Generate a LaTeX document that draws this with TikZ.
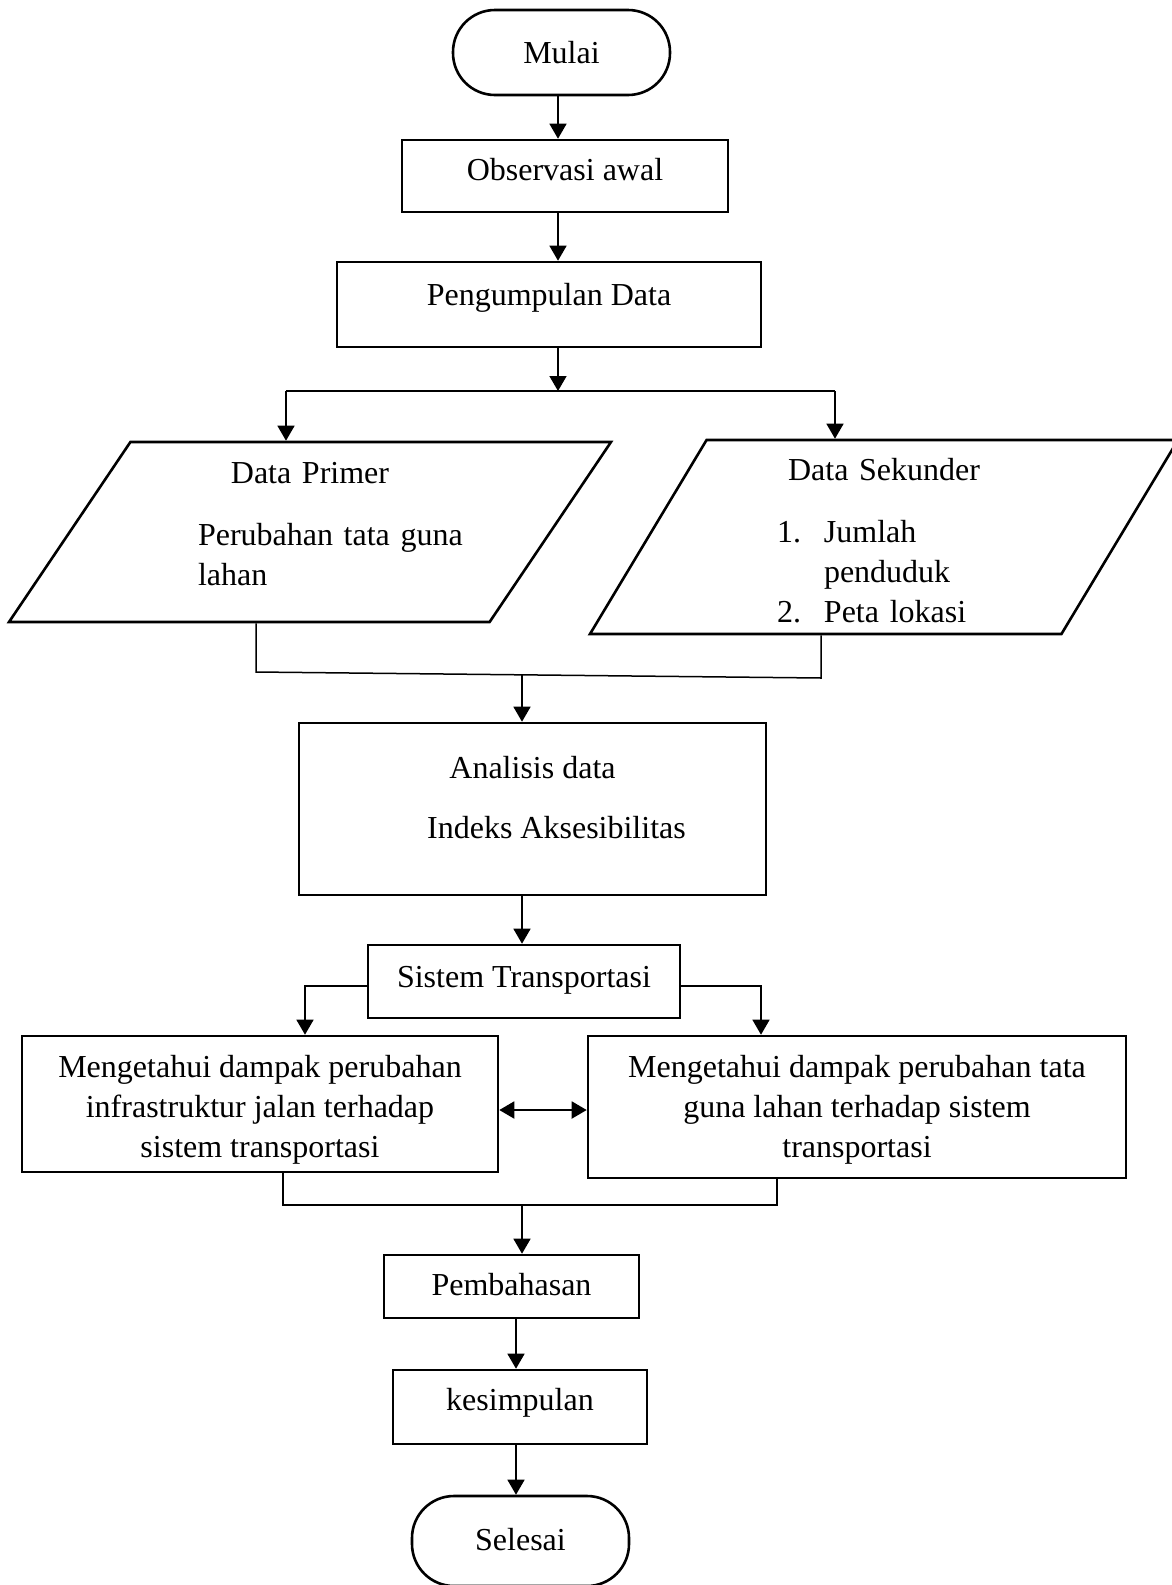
\documentclass[tikz,border=0pt]{standalone}
\usepackage{fontspec}
\setmainfont{Liberation Serif}
\usetikzlibrary{arrows.meta,shapes.geometric,positioning}

\begin{document}
\begin{tikzpicture}[x=0.5pt, y=-0.5pt,
                    font=\fontsize{16pt}{20pt}\selectfont,
                    box/.style={draw, rectangle, line width=1.3pt, inner xsep=0pt, inner ysep=0pt},
                    terminal/.style={box, rounded corners=21pt},
                    io/.style={draw, trapezium, trapezium stretches body, line width=1.3pt, inner sep=0pt},
                    flow/.style={line width=0.75pt},
                    arr/.style={flow, -{Triangle[length=7.5pt,width=8.5pt]}},
                    dbl/.style={line width=1pt, {Triangle[length=7.5pt,width=8.5pt]}-{Triangle[length=7.5pt,width=8.5pt]}}]
   \useasboundingbox (0,0) rectangle (1172,1585);

   % Define nodes
   \node[terminal, minimum width=108.5pt, text height=26.5pt, text depth=16pt] (mulai) at (561.5,52.5) {Mulai};
   \node[box, minimum width=163pt, text height=20pt, text depth=16pt] (observasi) at (565,176) {Observasi awal};
   \node[box, minimum width=212pt, text height=21.5pt, text depth=21pt] (pengumpulan) at (549,304.5) {Pengumpulan Data};
   \node[io, minimum width=301pt, trapezium left angle=56, trapezium right angle=124,
         text width=160pt, align=left, text height=20.5pt, text depth=69.5pt] (primer) at (310,532)
        {\makebox[\hsize]{Data Primer}\\[11pt]\hspace*{24pt}Perubahan tata guna\\\hspace*{24pt}lahan};
   \node[io, minimum width=294pt, trapezium left angle=59, trapezium right angle=121,
         text width=107pt, align=left, text height=20pt, text depth=77pt] (sekunder) at (884,537)
        {\makebox[\hsize]{Data Sekunder}\\[11pt]\makebox[23.5pt][l]{1.}Jumlah\\\hspace*{23.5pt}penduduk\\\makebox[23.5pt][l]{2.}Peta lokasi};
   \node[box, minimum width=233.5pt, minimum height=86pt, align=center, text depth=12pt] (analisis) at (532.5,809)
        {Analisis data\\[10pt]\hspace*{24pt}Indeks Aksesibilitas};
   \node[box, minimum width=156pt, text height=21pt, text depth=15.5pt] (sistem) at (524,981.5) {Sistem Transportasi};
   \node[box, minimum width=238pt, align=center, text height=60.5pt, text depth=7.5pt] (dampak_jalan) at (260,1104)
        {Mengetahui dampak perubahan\\infrastruktur jalan terhadap\\sistem transportasi};
   \node[box, minimum width=269pt, align=center, text height=60.5pt, text depth=10.5pt] (dampak_lahan) at (857,1107)
        {Mengetahui dampak perubahan tata\\guna lahan terhadap sistem\\transportasi};
   \node[box, minimum width=127.5pt, text height=20pt, text depth=11.5pt] (pembahasan) at (511.5,1286.5) {Pembahasan};
   \node[box, minimum width=127pt, text height=20pt, text depth=17pt] (kesimpulan) at (520,1407) {kesimpulan};
   \node[terminal, minimum width=108.5pt, text height=27pt, text depth=18pt] (selesai) at (520.5,1541) {Selesai};

   % Bends and joints of the connectors
   \coordinate (spine) at (558,0);
   \coordinate (fork_l) at (286,391);
   \coordinate (fork_r) at (835,391);
   \coordinate (join_l) at (256,672);
   \coordinate (join_r) at (821,678);
   \coordinate (join_m) at (522,674.8);
   \coordinate (branch_l) at (305,986);
   \coordinate (branch_r) at (761,986);
   \coordinate (link) at (543,1110);
   \coordinate (merge_l) at (283,1205);
   \coordinate (merge_r) at (777,1205);
   \coordinate (merge_m) at (522,1205);
   \coordinate (tail) at (516,0);

   % Define transitions
   \draw[arr] (mulai.south -| spine) -- (observasi.north -| spine);
   \draw[arr] (observasi.south -| spine) -- (pengumpulan.north -| spine);
   \draw[arr] (pengumpulan.south -| spine) -- (fork_l -| spine);
   \draw[flow] (fork_l) -- (fork_r);
   \draw[arr] (fork_l) -- (fork_l |- primer.north);
   \draw[arr] (fork_r) -- (fork_r |- sekunder.north);
   \draw[flow] (join_l |- primer.south) -- (join_l) -- (join_r) -- (join_r |- sekunder.south);
   \draw[arr] (join_m) -- (join_m |- analisis.north);
   \draw[arr] (analisis.south -| join_m) -- (sistem.north -| join_m);
   \draw[arr] (sistem.west |- branch_l) -- (branch_l) -- (branch_l |- dampak_jalan.north);
   \draw[arr] (sistem.east |- branch_r) -- (branch_r) -- (branch_r |- dampak_lahan.north);
   \draw[dbl] (dampak_jalan.east |- link) -- (dampak_lahan.west |- link);
   \draw[flow] (dampak_jalan.south -| merge_l) -- (merge_l) -- (merge_r) -- (dampak_lahan.south -| merge_r);
   \draw[arr] (merge_m) -- (merge_m |- pembahasan.north);
   \draw[arr] (pembahasan.south -| tail) -- (kesimpulan.north -| tail);
   \draw[arr] (kesimpulan.south -| tail) -- (selesai.north -| tail);
\end{tikzpicture}
\end{document}
